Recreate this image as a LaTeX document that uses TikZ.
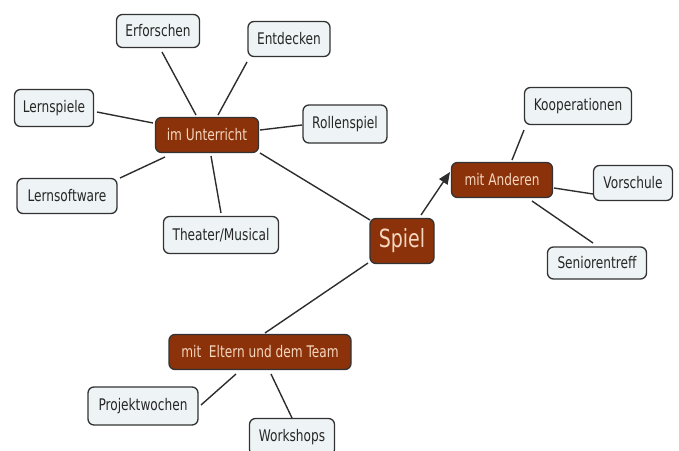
\documentclass[tikz,border=0pt]{standalone}
\usepackage{fontspec}
\setmainfont{DejaVu Sans}[FakeStretch=0.76]
\usetikzlibrary{calc,arrows.meta}
\definecolor{brownbox}{RGB}{139,50,10}
\definecolor{browntext}{RGB}{245,214,190}
\definecolor{lightbox}{RGB}{238,244,246}
\definecolor{edgegray}{RGB}{50,50,50}
\definecolor{linegray}{RGB}{45,45,45}
\tikzset{
  leaf/.style={draw=edgegray, line width=1.3pt, fill=lightbox, rounded corners=6pt,
    minimum height=35pt, inner xsep=6pt, text=black!85,
    font=\fontsize{16}{18}\selectfont},
  hub/.style={draw=black!80, line width=1.3pt, fill=brownbox, rounded corners=6pt,
    minimum height=35pt, inner xsep=6pt, text=browntext,
    font=\fontsize{16}{18}\selectfont},
  root/.style={hub, minimum height=45pt, inner xsep=6pt, font=\fontsize{25}{28}\selectfont},
  link/.style={draw=linegray, line width=1.4pt},
}
\begin{document}
\begin{tikzpicture}[x=1pt,y=-1pt]
\useasboundingbox (0,0) rectangle (679,450);
\clip (0,0) rectangle (679,450);
% nodes
\node[hub, minimum width=103pt] (Unt) at (207,135) {im Unterricht};
\node[leaf, minimum width=83pt, minimum height=33pt] (Erf) at (158,31) {Erforschen};
\node[leaf, minimum width=82pt] (Ent) at (289,39) {Entdecken};
\node[leaf, minimum width=79pt, minimum height=37pt] (Lsp) at (54,108) {Lernspiele};
\node[leaf, minimum width=84pt, minimum height=38pt] (Rol) at (345,124) {Rollenspiel};
\node[leaf, minimum width=100pt] (Lsw) at (67,196) {Lernsoftware};
\node[leaf, minimum width=115pt, minimum height=37pt] (The) at (221,235) {Theater/Musical};
\node[root, minimum width=64pt] (Spi) at (402,241) {Spiel};
\node[hub, minimum width=101pt] (And) at (502,180) {mit Anderen};
\node[leaf, minimum width=107pt, minimum height=37pt] (Koo) at (578,106) {Kooperationen};
\node[leaf, minimum width=79pt] (Vor) at (633,183) {Vorschule};
\node[leaf, minimum width=99pt, minimum height=32pt] (Sen) at (597,263) {Seniorentreff};
\node[hub, minimum width=182pt] (Elt) at (260,352) {mit\ \ Eltern und dem Team};
\node[leaf, minimum width=110pt, minimum height=38pt] (Pro) at (143,406) {Projektwochen};
\node[leaf, minimum width=85pt, minimum height=37pt] (Wor) at (292,437) {Workshops};
% connectors
\draw[link] ($(Erf)+(4,21)$) -- ($(Unt)+(-11,-20)$);
\draw[link] ($(Ent)+(-42,23)$) -- ($(Unt)+(11,-20)$);
\draw[link] ($(Lsp)+(43,4)$) -- ($(Unt)+(-54,-12)$);
\draw[link] ($(Rol)+(-43,1)$) -- ($(Unt)+(53,-5)$);
\draw[link] ($(Lsw)+(53,-18)$) -- ($(Unt)+(-42,22)$);
\draw[link] ($(The)+(0,-22)$) -- ($(Unt)+(4,21)$);
\draw[link] ($(Unt)+(53,18)$) -- ($(Spi)+(-32,-21)$);
\draw[link, -{Triangle[length=12pt,width=10pt]}] ($(Spi)+(19,-26)$) -- ($(And)+(-52,-8)$);
\draw[link] ($(And)+(10,-20)$) -- ($(Koo)+(-54,24)$);
\draw[link] ($(And)+(52,8)$) -- ($(Vor)+(-40,11)$);
\draw[link] ($(And)+(30,21)$) -- ($(Sen)+(-4,-20)$);
\draw[link] ($(Spi)+(-34,22)$) -- ($(Elt)+(5,-19)$);
\draw[link] ($(Elt)+(-24,22)$) -- ($(Pro)+(58,-1)$);
\draw[link] ($(Elt)+(11,22)$) -- ($(Wor)+(0,-19)$);
\end{tikzpicture}
\end{document}
